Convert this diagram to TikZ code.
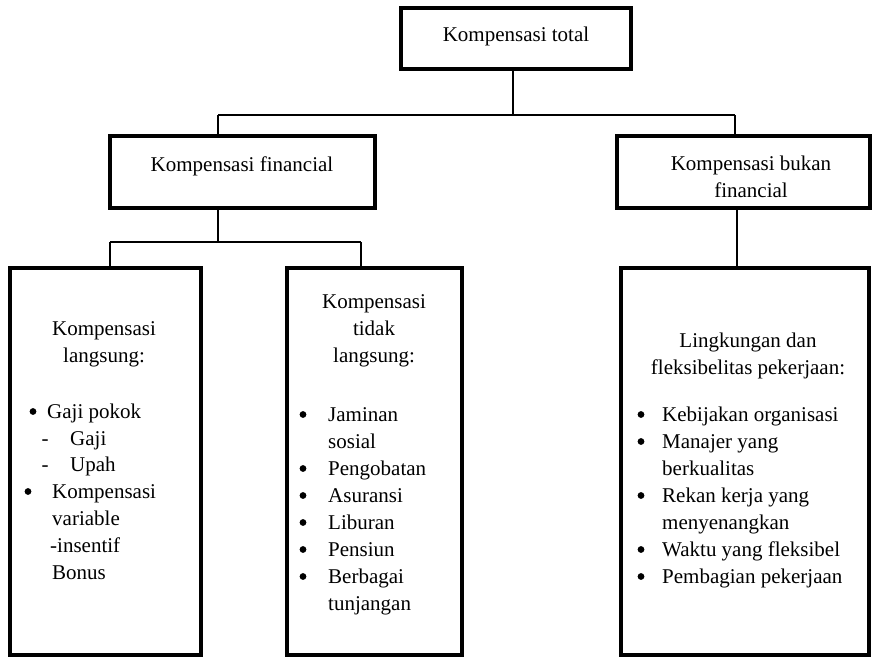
\documentclass[tikz,border=0pt]{standalone}
\usepackage{fontspec}
\setmainfont{Liberation Serif}
\begin{document}
\begin{tikzpicture}[x=1pt,y=-1pt,
  box/.style={draw, line width=4pt, rectangle, inner sep=0pt, outer sep=0pt},
  conn/.style={line width=1.3pt},
  txt/.style={inner sep=0pt, font=\fontsize{21}{27}\selectfont, anchor=base},
  lft/.style={txt, anchor=base west},
  dot/.style={circle, fill=black, inner sep=0pt, minimum size=6.8pt}]
\useasboundingbox (0,0) rectangle (874,658);

% boxes
\node[box, minimum width=230pt, minimum height=61pt] (tot) at (516,38.5) {};
\node[box, minimum width=265pt, minimum height=72pt] (fin) at (242.5,172) {};
\node[box, minimum width=253pt, minimum height=72pt] (nonfin) at (743.5,172) {};
\node[box, minimum width=191pt, minimum height=387pt] (dir) at (105.5,461.5) {};
\node[box, minimum width=175pt, minimum height=387pt] (ind) at (374.5,461.5) {};
\node[box, minimum width=248pt, minimum height=387pt] (env) at (745,461.5) {};

% connectors
\coordinate (j1) at (513,115);
\coordinate (fL) at (218,115);
\coordinate (nR) at (735,115);
\draw[conn] (tot.south -| j1) -- (j1);
\draw[conn] (fL) -- (nR);
\draw[conn] (fL) -- (fL |- fin.north);
\draw[conn] (nR) -- (nR |- nonfin.north);
\coordinate (j2) at (218,242);
\coordinate (dL) at (110,242);
\coordinate (iR) at (361,242);
\draw[conn] (fin.south -| j2) -- (j2);
\draw[conn] (dL) -- (iR);
\draw[conn] (dL) -- (dL |- dir.north);
\draw[conn] (iR) -- (iR |- ind.north);
\coordinate (j3) at (737,240);
\draw[conn] (j3 |- nonfin.south) -- (j3 |- env.north);

% top texts
\node[txt] (totT) at (516,42) {Kompensasi total};
\node[txt] (finT) at (242,171) {Kompensasi financial};
\node[txt] (nfT1) at (751,170) {Kompensasi bukan};
\node[txt] (nfT2) at (751,197) {financial};

% left box
\node[txt] (d1) at (104,335) {Kompensasi};
\node[txt] (d2) at (104,362) {langsung:};
\node[dot] (db1) at (33,411.5) {};
\node[lft] (dl1) at (47,418) {Gaji pokok};
\node[txt] (dd1) at (45,445) {-};
\node[lft] (dl2) at (70,445) {Gaji};
\node[txt] (dd2) at (45,471) {-};
\node[lft] (dl3) at (70,471) {Upah};
\node[dot] (db2) at (28,491.5) {};
\node[lft] (dl4) at (52,498) {Kompensasi};
\node[lft] (dl5) at (52,525) {variable};
\node[lft] (dl6) at (50,552) {-insentif};
\node[lft] (dl7) at (52,579) {Bonus};

% middle box
\node[txt] (i1) at (374,308) {Kompensasi};
\node[txt] (i2) at (374,335) {tidak};
\node[txt] (i3) at (374,362) {langsung:};
\foreach \yy/\bb/\tt [count=\k] in {421/1/Jaminan, 448/0/sosial, 475/1/Pengobatan, 502/1/Asuransi, 529/1/Liburan, 556/1/Pensiun, 583/1/Berbagai, 610/0/tunjangan}{
  \node[lft] (il\k) at (328,\yy) {\tt};
  \ifnum\bb=1 \node[dot] (ib\k) at (303,\yy-6.5) {}; \fi
}

% right box
\node[txt] (e1) at (748,347) {Lingkungan dan};
\node[txt] (e2) at (748,374) {fleksibelitas pekerjaan:};
\foreach \yy/\bb/\tt [count=\k] in {421/1/Kebijakan organisasi, 448/1/Manajer yang, 475/0/berkualitas, 502/1/Rekan kerja yang, 529/0/menyenangkan, 556/1/Waktu yang fleksibel, 583/1/Pembagian pekerjaan}{
  \node[lft] (el\k) at (662,\yy) {\tt};
  \ifnum\bb=1 \node[dot] (eb\k) at (641,\yy-6.5) {}; \fi
}
\end{tikzpicture}
\end{document}
